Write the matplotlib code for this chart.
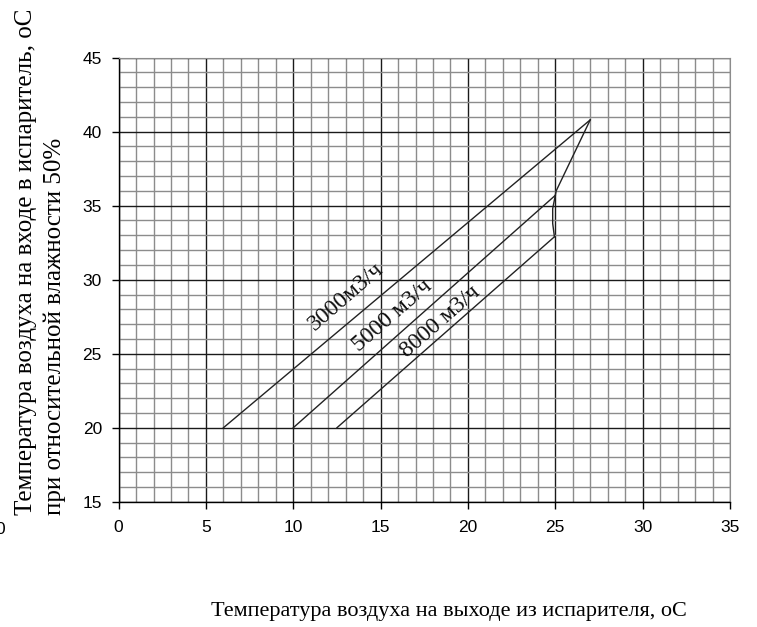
import matplotlib
matplotlib.use('Agg')
import matplotlib.pyplot as plt
import numpy as np

# 3000 m3/h line
x3000 = [6, 27]
y3000 = [20, 40.8]
# 5000 m3/h line
x5000 = [10, 25]
y5000 = [20, 35.7]
# 8000 m3/h line
x8000 = [12.5, 24.95]
y8000 = [20, 32.9]
# closing curve from the 3000 apex down to the 8000 end
x_edge = [27, 25.05, 25.0, 24.85, 24.85, 24.95]
y_edge = [40.8, 36.0, 35.7, 34.8, 33.8, 32.9]

labels = ['3000м3/ч', '5000 м3/ч', '8000 м3/ч']
label_xy = [(13.0, 28.85), (15.7, 27.55), (18.4, 27.15)]

xticks = [0, 5, 10, 15, 20, 25, 30, 35]
yticks = [15, 20, 25, 30, 35, 40, 45]

serif = 'Liberation Serif'
sans = 'Liberation Sans'

fig = plt.figure(figsize=(7.57, 6.27), dpi=100)
ax = fig.add_axes([0.1567, 0.1998, 0.8076, 0.7082])

ax.set_xlim(0, 35)
ax.set_ylim(15, 45)

# grid: 1 unit minor, 5 unit major
ax.set_xticks(np.arange(0, 36, 1), minor=True)
ax.set_yticks(np.arange(15, 46, 1), minor=True)
ax.set_xticks(xticks)
ax.set_yticks(yticks)
ax.grid(which='minor', color='#8c8c8c', lw=1.0)
ax.grid(which='major', color='#1a1a1a', lw=1.0)
ax.set_axisbelow(True)

for s in ['top', 'right']:
    ax.spines[s].set_color('#8c8c8c')
for s in ['left', 'bottom']:
    ax.spines[s].set_color('black')
    ax.spines[s].set_linewidth(1.0)

ax.tick_params(which='major', direction='out', length=5, width=1.0,
               labelsize=12.5)
ax.tick_params(axis='x', pad=8)
ax.tick_params(axis='y', pad=7)
ax.tick_params(which='minor', length=0)
for t in ax.get_xticklabels() + ax.get_yticklabels():
    t.set_family(sans)

kw = dict(color='#222222', lw=1.0)
ax.plot(x3000, y3000, **kw)
ax.plot(x5000, y5000, **kw)
ax.plot(x8000, y8000, **kw)
ax.plot(x_edge, y_edge, **kw)

for lab, (lx, ly) in zip(labels, label_xy):
    ax.text(lx, ly, lab, rotation=41, ha='center', va='center',
            family=serif, fontsize=17, color='#111111')

fig.text(0.593, 0.024, 'Температура воздуха на выходе из испарителя, оС',
         ha='center', va='center', family=serif, fontsize=16)
fig.text(0.0535, 0.1786,
         'Температура воздуха на входе в испаритель, оС\nпри относительной влажности 50%',
         rotation=90, ha='center', va='bottom', multialignment='left',
         family=serif, fontsize=18, linespacing=1.4)
fig.text(0.0, 0.155, '0', ha='center', va='center', family=sans, fontsize=12.5)

fig.savefig('out.png', dpi=100)
